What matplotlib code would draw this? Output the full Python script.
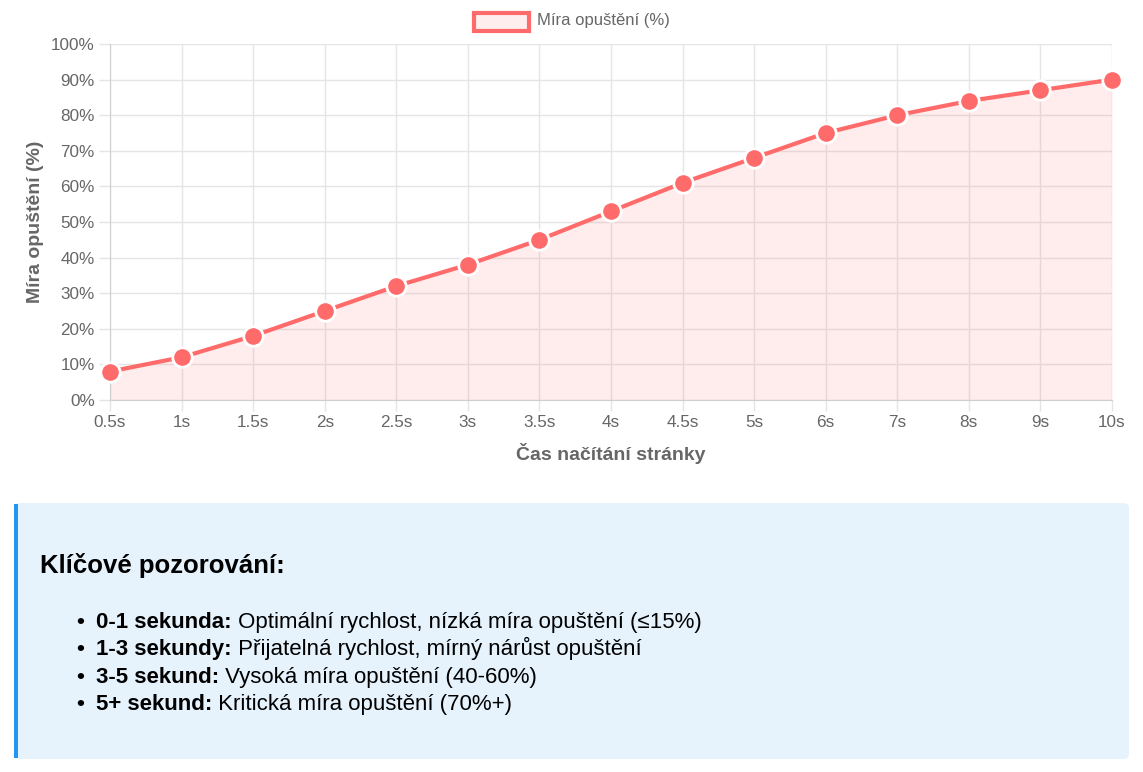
import matplotlib.pyplot as plt
from matplotlib.patches import FancyBboxPatch, Rectangle
import numpy as np

plt.rcParams['font.family'] = ['Liberation Sans', 'DejaVu Sans']

times = ['0.5s', '1s', '1.5s', '2s', '2.5s', '3s', '3.5s', '4s', '4.5s', '5s',
         '6s', '7s', '8s', '9s', '10s']
bounce = [8, 12, 18, 25, 32, 38, 45, 53, 61, 68, 75, 80, 84, 87, 90]
series_name = 'Míra opuštění (%)'

heading = 'Klíčové pozorování:'
bullet_bold = ['0-1 sekunda:', '1-3 sekundy:', '3-5 sekund:', '5+ sekund:']
bullet_text = [' Optimální rychlost, nízká míra opuštění (≤15%)',
               ' Přijatelná rychlost, mírný nárůst opuštění',
               ' Vysoká míra opuštění (40-60%)',
               ' Kritická míra opuštění (70%+)']

W, H = 1143, 772
red = '#ff6b6b'
grid = '#e5e5e5'
gray = '#666666'

fig = plt.figure(figsize=(W / 100, H / 100), dpi=100)
ax = fig.add_axes([110 / W, 1 - 400 / H, (1112 - 110) / W, (400 - 44) / H])

x = np.arange(len(times))
ax.fill_between(x, bounce, 0, color=red, alpha=0.12, linewidth=0)
ax.plot(x, bounce, color=red, linewidth=3, marker='o', markersize=14,
        markerfacecolor=red, markeredgecolor='white', markeredgewidth=2,
        zorder=3, clip_on=False)

ax.set_xlim(0, len(times) - 1)
ax.set_ylim(0, 100)
ax.set_xticks(x)
ax.set_xticklabels(times)
ax.set_yticks(range(0, 101, 10))
ax.set_yticklabels([f'{v}%' for v in range(0, 101, 10)])
ax.grid(True, color=grid, linewidth=1)
ax.set_axisbelow(True)
for s in ['top', 'right']:
    ax.spines[s].set_visible(False)
for s in ['left', 'bottom']:
    ax.spines[s].set_color('#cfcfcf')
ax.tick_params(colors=grid, labelcolor=gray, labelsize=12.3, length=8, width=1, pad=3)

ax.set_xlabel('Čas načítání stránky', fontsize=14, fontweight='bold', color=gray, labelpad=9)
ax.set_ylabel(series_name, fontsize=14, fontweight='bold', color=gray, labelpad=5)

# legend
fig.patches.append(Rectangle((474 / W, 1 - 31 / H), 55 / W, 18 / H, transform=fig.transFigure,
                             facecolor='#ffeeee', edgecolor=red, linewidth=3))
fig.text(537 / W, 1 - 21 / H, series_name, fontsize=12, color=gray, va='center')

# info box
fig.patches.append(FancyBboxPatch((14 / W, 1 - 759 / H), (1129 - 14) / W, (759 - 503) / H,
                                  boxstyle='round,pad=0,rounding_size=0.006',
                                  transform=fig.transFigure, facecolor='#e6f3fd',
                                  edgecolor='none'))
fig.patches.append(Rectangle((14 / W, 1 - 758 / H), 4 / W, (758 - 504) / H,
                             transform=fig.transFigure, facecolor='#2196f3', edgecolor='none'))

fig.text(40 / W, 1 - 573 / H, heading, fontsize=18.5, fontweight='bold', color='black',
         va='baseline')

fig.canvas.draw()
renderer = fig.canvas.get_renderer()
ys = [628, 655, 683, 710]
for yy, b, t in zip(ys, bullet_bold, bullet_text):
    fig.text(76 / W, 1 - yy / H, '•', fontsize=16, fontweight='bold', color='black', va='baseline')
    tb = fig.text(96 / W, 1 - yy / H, b, fontsize=16, fontweight='bold', color='black', va='baseline')
    bb = tb.get_window_extent(renderer)
    fig.text(bb.x1 / W, 1 - yy / H, t, fontsize=16, color='black', va='baseline')

fig.savefig('out.png', dpi=100)
